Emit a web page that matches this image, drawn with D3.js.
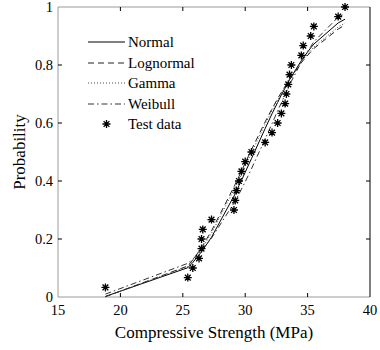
<!DOCTYPE html>
<html lang="en">
<head>
<meta charset="utf-8">
<script src="https://d3js.org/d3.v7.min.js"></script>
<style>
  body { margin: 0; background: #fff; }
  svg text { font-family: "Liberation Serif", serif; }
</style>
</head>
<body>
<div id="chart"></div>
<script>
// compressive strength of each specimen (MPa), sorted
var strength = [18.8, 25.4, 25.8, 26.3, 26.5, 26.5, 26.6, 27.3, 29.1, 29.2,
                29.3, 29.5, 29.7, 30.0, 30.5, 31.6, 32.15, 32.6, 32.9, 33.2,
                33.3, 33.45, 33.55, 33.7, 34.5, 34.65, 35.25, 35.5, 37.45, 38.0];
// empirical probability of the test data
var testProb = [0.033, 0.067, 0.100, 0.133, 0.167, 0.200, 0.233, 0.267, 0.300, 0.333,
                0.367, 0.400, 0.433, 0.467, 0.500, 0.533, 0.567, 0.600, 0.633, 0.667,
                0.700, 0.733, 0.767, 0.800, 0.833, 0.867, 0.900, 0.933, 0.967, 1.000];
// fitted cdf curves read at the same strengths
var normalCdf = [0.002, 0.101, 0.119, 0.145, 0.156, 0.156, 0.162, 0.206, 0.348, 0.356,
                 0.365, 0.384, 0.402, 0.430, 0.477, 0.581, 0.632, 0.671, 0.697, 0.721,
                 0.729, 0.741, 0.749, 0.760, 0.815, 0.825, 0.859, 0.872, 0.945, 0.958];
var lognormalCdf = [0.001, 0.107, 0.128, 0.158, 0.171, 0.171, 0.178, 0.228, 0.380, 0.389,
                    0.398, 0.416, 0.434, 0.462, 0.508, 0.604, 0.649, 0.684, 0.706, 0.727,
                    0.734, 0.744, 0.751, 0.760, 0.808, 0.816, 0.845, 0.857, 0.924, 0.938];
var gammaCdf = [0.001, 0.105, 0.125, 0.153, 0.166, 0.166, 0.172, 0.220, 0.370, 0.378,
                0.386, 0.404, 0.422, 0.450, 0.497, 0.596, 0.643, 0.679, 0.703, 0.725,
                0.732, 0.743, 0.750, 0.760, 0.810, 0.819, 0.850, 0.862, 0.931, 0.945];
var weibullCdf = [0.010, 0.116, 0.131, 0.152, 0.162, 0.162, 0.167, 0.203, 0.324, 0.331,
                  0.339, 0.355, 0.372, 0.397, 0.442, 0.545, 0.598, 0.642, 0.670, 0.698,
                  0.708, 0.721, 0.730, 0.744, 0.810, 0.822, 0.864, 0.880, 0.965, 0.977];
var xTicks = [15, 20, 25, 30, 35, 40];
var yTicks = [0, 0.2, 0.4, 0.6, 0.8, 1];

var W = 380, H = 350;
var margin = {top: 7, right: 10, bottom: 53, left: 58};
var width = W - margin.left - margin.right,
    height = H - margin.top - margin.bottom;

var svg = d3.select("#chart").append("svg")
    .attr("width", W).attr("height", H);
var g = svg.append("g")
    .attr("transform", "translate(" + margin.left + "," + margin.top + ")");

function label(sel, size) {
  return sel.attr("font-family", "Liberation Serif").attr("font-size", size).attr("fill", "#000");
}

var x = d3.scaleLinear().domain([15, 40]).range([0, width]);
var y = d3.scaleLinear().domain([0, 1]).range([height, 0]);

// box: left/top/bottom grey, right black
g.append("line").attr("x1", 0).attr("x2", 0).attr("y1", 0).attr("y2", height).attr("stroke", "#9a9a9a");
g.append("line").attr("x1", 0).attr("x2", width).attr("y1", 0).attr("y2", 0).attr("stroke", "#9a9a9a");
g.append("line").attr("x1", 0).attr("x2", width).attr("y1", height).attr("y2", height).attr("stroke", "#9a9a9a");
g.append("line").attr("x1", width).attr("x2", width).attr("y1", 0).attr("y2", height).attr("stroke", "#000");

// inward ticks, mirrored on top and right
var tk = 4;
xTicks.forEach(function(t) {
  if (t > 15 && t < 40) {
    g.append("line").attr("x1", x(t)).attr("x2", x(t)).attr("y1", height).attr("y2", height - tk).attr("stroke", "#000");
    g.append("line").attr("x1", x(t)).attr("x2", x(t)).attr("y1", 0).attr("y2", tk).attr("stroke", "#000");
  }
  label(g.append("text"), 14.5).attr("x", x(t)).attr("y", height + 18)
    .attr("text-anchor", "middle").text(t);
});
yTicks.forEach(function(t) {
  if (t > 0 && t < 1) {
    g.append("line").attr("x1", 0).attr("x2", tk).attr("y1", y(t)).attr("y2", y(t)).attr("stroke", "#000");
    g.append("line").attr("x1", width).attr("x2", width - tk).attr("y1", y(t)).attr("y2", y(t)).attr("stroke", "#000");
  }
  label(g.append("text"), 14.5).attr("x", -5).attr("y", y(t) + 5)
    .attr("text-anchor", "end").text(t);
});

// axis titles
label(g.append("text"), 17).attr("x", width / 2).attr("y", height + 41)
  .attr("text-anchor", "middle").text("Compressive Strength (MPa)");
label(g.append("text"), 17).attr("transform", "translate(-33," + (height / 2) + ") rotate(-90)")
  .attr("text-anchor", "middle").text("Probability");

// fitted curves
var series = [
  {name: "Normal", vals: normalCdf, dash: null, color: "#000"},
  {name: "Lognormal", vals: lognormalCdf, dash: "6,4", color: "#222"},
  {name: "Gamma", vals: gammaCdf, dash: "1,2", color: "#444"},
  {name: "Weibull", vals: weibullCdf, dash: "6,3,1.5,3", color: "#333"}
];
var line = d3.line()
  .x(function(d, i) { return x(strength[i]); })
  .y(function(d) { return y(d); });
series.forEach(function(s) {
  g.append("path").datum(s.vals)
    .attr("fill", "none").attr("stroke", s.color).attr("stroke-width", 1)
    .attr("stroke-dasharray", s.dash)
    .attr("d", line);
});

// asterisk marker like matlab '*'
function star(r) {
  var d = r * 0.72;
  return "M" + (-r) + ",0L" + r + ",0M0," + (-r) + "L0," + r +
         "M" + (-d) + "," + (-d) + "L" + d + "," + d +
         "M" + (-d) + "," + d + "L" + d + "," + (-d);
}
g.selectAll(".pt").data(testProb).enter().append("path")
  .attr("class", "pt")
  .attr("transform", function(d, i) { return "translate(" + x(strength[i]) + "," + y(d) + ")"; })
  .attr("d", star(4))
  .attr("stroke", "#000").attr("stroke-width", 1.3).attr("fill", "none");

// legend
var legY = [42, 63, 83, 104];
var lx1 = 88 - margin.left, lx2 = 125 - margin.left;
series.forEach(function(s, i) {
  var yy = legY[i] - margin.top;
  g.append("line").attr("x1", lx1).attr("x2", lx2).attr("y1", yy).attr("y2", yy)
    .attr("stroke", s.color).attr("stroke-width", 1).attr("stroke-dasharray", s.dash);
  label(g.append("text"), 15).attr("x", lx2 + 3).attr("y", yy + 5).text(s.name);
});
var sy = 124 - margin.top;
g.append("path").attr("transform", "translate(" + ((lx1 + lx2) / 2) + "," + sy + ")")
  .attr("d", star(4)).attr("stroke", "#000").attr("stroke-width", 1.3).attr("fill", "none");
label(g.append("text"), 15).attr("x", lx2 + 3).attr("y", sy + 5).text("Test data");
</script>
</body>
</html>
